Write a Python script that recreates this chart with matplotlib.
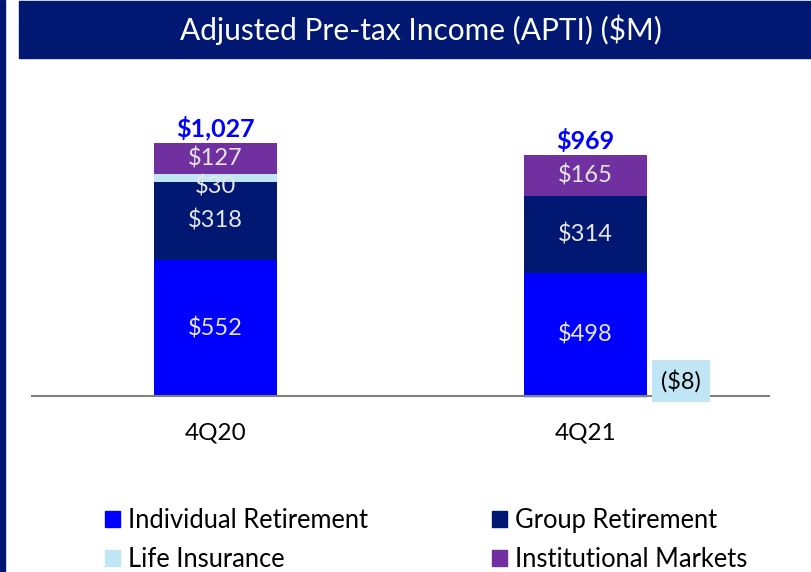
import numpy as np
import matplotlib
matplotlib.use("Agg")
import matplotlib.pyplot as plt
from matplotlib.patches import Rectangle, Patch

plt.rcParams['font.family'] = ['Lato', 'DejaVu Sans']

quarters = ['4Q20', '4Q21']
individual = [552, 498]
group = [318, 314]
life = [30, -8]
institutional = [127, 165]
totals = [1027, 969]

segments = ['Individual Retirement', 'Group Retirement', 'Life Insurance', 'Institutional Markets']
colors = ['#0000FF', '#001871', '#C0E6F5', '#7030A0']
NAVY = '#001871'

W, H = 811, 572
fig = plt.figure(figsize=(W / 100, H / 100), dpi=100)

# left border and title bar
fig.patches.append(Rectangle((0, 0), 5 / W, 1, transform=fig.transFigure, color=NAVY, zorder=0))
fig.patches.append(Rectangle((19 / W, 1 - 58 / H), 1 - 19 / W, 57 / H,
                             transform=fig.transFigure, color=NAVY, zorder=0))
fig.text(421 / W, 1 - 30 / H, 'Adjusted Pre-tax Income (APTI) ($M)', color='white',
         fontsize=21.5, ha='center', va='center')

# axes: baseline at y=396px, 0.2463 px per $M
ax = fig.add_axes([31 / W, (H - 420) / H, 739 / W, 320 / H])
ax.set_xlim(-0.4986, 1.4986)
ax.set_ylim(-97.4, 1201.8)
ax.axis('off')

x = np.arange(len(quarters))
bw = 0.332
data = [individual, group, life, institutional]
bottom = np.zeros(len(quarters))
for i, (vals, c) in enumerate(zip(data, colors)):
    vals = np.array(vals, dtype=float)
    pos = vals >= 0
    b = np.where(pos, bottom, 0)
    ax.bar(x, vals, bw, bottom=b, color=c, edgecolor='none', zorder=2)
    for j in range(len(x)):
        if vals[j] > 0:
            yc = b[j] + vals[j] / 2
            dy = -6 if vals[j] < 50 else 0
            ax.annotate(f'${vals[j]:.0f}', (x[j], yc), xytext=(0, dy),
                        textcoords='offset points', ha='center', va='center',
                        color='#E6E6E6', fontsize=17, zorder=4)
        else:
            ax.annotate(f'(${-vals[j]:.0f})', (x[j] + bw / 2, 0), xytext=(24.5, 11),
                        textcoords='offset points', ha='center', va='center',
                        color='black', fontsize=17, zorder=4,
                        bbox=dict(boxstyle='square,pad=0.4', fc=c, ec='none'))
    bottom = bottom + np.where(pos, vals, 0)

for j in range(len(x)):
    ax.annotate(f'${totals[j]:,}', (x[j], bottom[j]), xytext=(0, 2),
                textcoords='offset points', ha='center', va='bottom',
                color='#0000FF', fontsize=18, fontweight='bold')
    ax.annotate(quarters[j], (x[j], 0), xytext=(0, -19), textcoords='offset points',
                ha='center', va='top', fontsize=17.5, color='black')

ax.axhline(0, color='#808080', lw=1.5, zorder=3)

handles = [Patch(color=colors[k], label=segments[k]) for k in [0, 2, 1, 3]]
fig.legend(handles=handles, ncol=2, loc='upper left', bbox_to_anchor=(95 / W, 1 - 498 / H),
           frameon=False, fontsize=18.4, handlelength=0.59, handleheight=0.59,
           handletextpad=0.3, columnspacing=4.86, labelspacing=0.54, borderaxespad=0)

fig.savefig('out.png', dpi=100)
